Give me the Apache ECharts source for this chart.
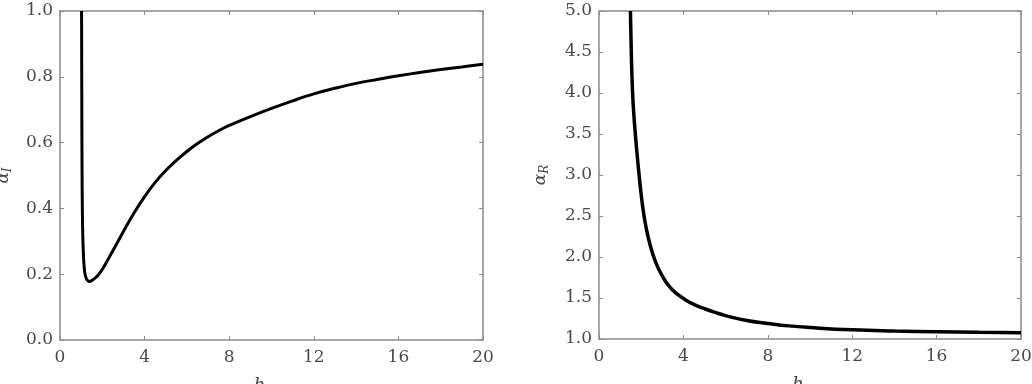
<!DOCTYPE html>
<html>
<head>
<meta charset="utf-8">
<script src="https://cdn.jsdelivr.net/npm/echarts@6/dist/echarts.min.js"></script>
<style>
  html, body { margin: 0; padding: 0; background: #fff; }
  #chart { width: 1032px; height: 384px; }
</style>
</head>
<body>
<div id="chart"></div>
<script>
// left panel: alpha_I against h
const hI = [1.02, 1.03, 1.04, 1.06, 1.1, 1.16, 1.25, 1.4, 1.6, 1.8, 2.0, 2.2, 2.4, 2.7, 3.0, 3.5, 4.0, 4.5, 5.0, 5.5, 6.0, 6.5, 7.0, 7.5, 8.0, 9.0, 10.0, 11.0, 12.0, 13.0, 14.0, 15.0, 16.0, 17.0, 18.0, 19.0, 20.0]
const alphaI = [1.0, 0.75, 0.55, 0.38, 0.27, 0.21, 0.186, 0.178, 0.185, 0.197, 0.215, 0.237, 0.26, 0.295, 0.33, 0.386, 0.436, 0.479, 0.515, 0.546, 0.573, 0.597, 0.618, 0.636, 0.652, 0.679, 0.704, 0.727, 0.748, 0.765, 0.78, 0.792, 0.803, 0.813, 0.822, 0.83, 0.838]

// right panel: alpha_R against h
const hR = [1.49, 1.52, 1.56, 1.62, 1.7, 1.8, 1.9, 2.0, 2.1, 2.21, 2.4, 2.68, 3.0, 3.32, 3.7, 4.08, 4.6, 5.0, 5.5, 6.0, 7.0, 8.0, 9.0, 10.0, 12.0, 14.0, 16.0, 18.0, 20.0]
const alphaR = [5.0, 4.62, 4.22, 3.86, 3.57, 3.27, 3.0, 2.76, 2.56, 2.39, 2.17, 1.94, 1.77, 1.645, 1.55, 1.48, 1.41, 1.37, 1.325, 1.285, 1.225, 1.19, 1.16, 1.14, 1.112, 1.097, 1.088, 1.081, 1.076]

const pairs = (xs, ys) => xs.map((x, i) => [x, ys[i]])

const fontFamily = 'DejaVu Serif'
const lineColor = '#8a8a8a'
const labelStyle = { color: '#4a4a4a', fontFamily: fontFamily, fontSize: 17 }

// shared axis look
function baseAxis(extra) {
  return Object.assign({
    type: 'value',
    axisLine: { show: true, onZero: false, lineStyle: { color: lineColor, width: 1.5 } },
    axisTick: { show: true, inside: true, length: 4, lineStyle: { color: lineColor, width: 1 } },
    splitLine: { show: false }
  }, extra)
}

function xAxes(gridIndex, nameShift) {
  return [
    baseAxis({
      gridIndex: gridIndex, position: 'bottom', min: 0, max: 20, interval: 4,
      axisLabel: Object.assign({ margin: 9 }, labelStyle),
      name: 'h', nameLocation: 'middle', nameGap: 37,
      nameTextStyle: { color: '#444', fontFamily: fontFamily, fontStyle: 'italic', fontSize: 18, padding: [0, nameShift, 0, 0] }
    }),
    baseAxis({
      gridIndex: gridIndex, position: 'top', min: 0, max: 20, interval: 4,
      axisLabel: { show: false }
    })
  ]
}

function yAxes(gridIndex, min, max, interval, sub, gap) {
  return [
    baseAxis({
      gridIndex: gridIndex, position: 'left', min: min, max: max, interval: interval,
      axisLabel: Object.assign({ margin: 7, formatter: v => v.toFixed(1) }, labelStyle),
      name: '{a|α}{s|' + sub + '}', nameLocation: 'middle', nameGap: gap, nameRotate: 90,
      nameTextStyle: {
        rich: {
          a: { color: '#444', fontFamily: fontFamily, fontStyle: 'italic', fontSize: 17 },
          s: { color: '#444', fontFamily: fontFamily, fontStyle: 'italic', fontSize: 12, verticalAlign: 'bottom', padding: [8, 0, 0, 0] }
        }
      }
    }),
    baseAxis({
      gridIndex: gridIndex, position: 'right', min: min, max: max, interval: interval,
      axisLabel: { show: false }
    })
  ]
}

const chart = echarts.init(document.getElementById('chart'))

const option = {
  animation: false,
  backgroundColor: '#fff',
  grid: [
    { left: 60, top: 11, width: 423, height: 329, outerBoundsMode: 'none', containLabel: false },
    { left: 599, top: 11, width: 422, height: 328, outerBoundsMode: 'none', containLabel: false }
  ],
  xAxis: [...xAxes(0, 24), ...xAxes(1, 24)],
  yAxis: [
    ...yAxes(0, 0, 1, 0.2, 'I', 46),
    ...yAxes(1, 1, 5, 0.5, 'R', 48)
  ],
  series: [
    {
      type: 'line', xAxisIndex: 0, yAxisIndex: 0,
      data: pairs(hI, alphaI),
      smooth: 0.4, showSymbol: false,
      lineStyle: { color: '#000', width: 3 }
    },
    {
      type: 'line', xAxisIndex: 2, yAxisIndex: 2,
      data: pairs(hR, alphaR),
      smooth: 0.5, showSymbol: false,
      lineStyle: { color: '#000', width: 3.5 }
    }
  ]
}

chart.setOption(option)
</script>
</body>
</html>
